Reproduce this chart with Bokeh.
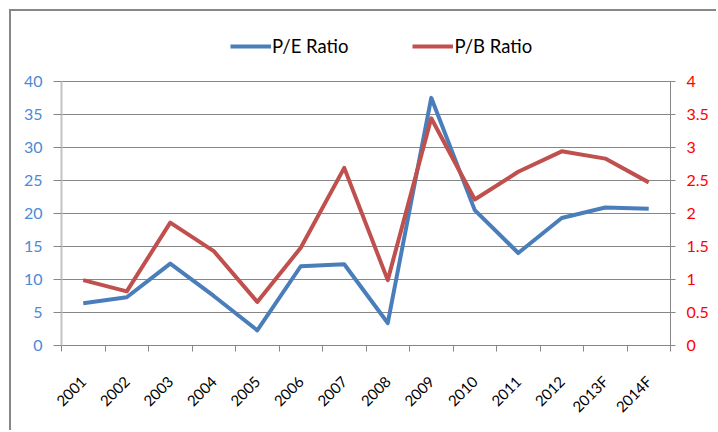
import math
from bokeh.plotting import figure
from bokeh.models import (Range1d, FactorRange, LinearAxis, FixedTicker,
                          NumeralTickFormatter, Legend, LegendItem, ColumnDataSource)
from bokeh.embed import file_html
from bokeh.resources import INLINE

years = ["2001", "2002", "2003", "2004", "2005", "2006", "2007", "2008",
         "2009", "2010", "2011", "2012", "2013F", "2014F"]
pe_ratio = [6.4, 7.3, 12.4, 7.5, 2.3, 12.0, 12.3, 3.4, 37.5, 20.5, 14.0, 19.3, 20.9, 20.7]
pb_ratio = [0.99, 0.82, 1.86, 1.43, 0.66, 1.48, 2.69, 0.99, 3.44, 2.21, 2.63, 2.94, 2.83, 2.47]
left_ticks = [0, 5, 10, 15, 20, 25, 30, 35, 40]
right_ticks = [0, 0.5, 1, 1.5, 2, 2.5, 3, 3.5, 4]

FONT = "Lato"
GRID = "#868686"
TOP = 48  # headroom above the 40 line holds the legend

src = ColumnDataSource(dict(year=years, pe=pe_ratio, pb=pb_ratio))

p = figure(width=707, height=421, x_range=FactorRange(factors=years),
           y_range=Range1d(0, TOP), output_backend="svg", toolbar_location=None,
           x_axis_location=None,
           min_border_left=50, min_border_right=48, min_border_top=17,
           min_border_bottom=87, outline_line_color=None)
p.styles = {"margin-left": "9px", "margin-top": "9px",
            "border-left": "2px solid #878787", "border-top": "2px solid #878787"}

p.extra_y_ranges = {"pb": Range1d(0, TOP / 10)}

p.xgrid.visible = False
p.ygrid.grid_line_color = GRID
p.ygrid.ticker = FixedTicker(ticks=left_ticks)

# left axis
ya = p.yaxis[0]
ya.ticker = FixedTicker(ticks=left_ticks)
ya.bounds = (0, 40)
ya.axis_line_color = "#c4c4c4"
ya.axis_line_width = 2
ya.major_tick_line_color = GRID
ya.major_tick_out = 8
ya.major_tick_in = 0
ya.minor_tick_line_color = None
ya.major_label_standoff = 11
ya.major_label_text_font = FONT
ya.major_label_text_font_size = "16px"
ya.major_label_text_color = "#4a8ad6"

# right axis
ra = LinearAxis(y_range_name="pb", ticker=FixedTicker(ticks=right_ticks),
                formatter=NumeralTickFormatter(format="0.[0]"), bounds=(0, 4))
ra.axis_line_color = GRID
ra.major_tick_line_color = GRID
ra.major_tick_out = 5
ra.major_tick_in = 0
ra.minor_tick_line_color = None
ra.major_label_standoff = 11
ra.major_label_text_font = FONT
ra.major_label_text_font_size = "16px"
ra.major_label_text_color = "#ff0000"
p.add_layout(ra, "right")

# bottom axis: labels at category centres, ticks at category boundaries
centres = [i + 0.5 for i in range(len(years))]
bounds = list(range(len(years) + 1))
xa = LinearAxis(ticker=FixedTicker(ticks=centres, minor_ticks=bounds),
                major_label_overrides={c: y for c, y in zip(centres, years)})
xa.axis_line_color = GRID
xa.major_tick_line_color = None
xa.major_tick_out = 0
xa.major_tick_in = 0
xa.minor_tick_line_color = GRID
xa.minor_tick_out = 6
xa.minor_tick_in = 0
xa.major_label_orientation = math.pi / 4
xa.major_label_text_font = FONT
xa.major_label_text_font_size = "15px"
xa.major_label_text_color = "#000000"
xa.major_label_standoff = 27
p.add_layout(xa, "below")

r1 = p.line(x="year", y="pe", source=src, line_color="#4a7ebb", line_width=4,
            line_join="round")
r2 = p.line(x="year", y="pb", source=src, y_range_name="pb", line_color="#c0504d",
            line_width=4, line_join="round")

legend = Legend(items=[LegendItem(label="P/E Ratio", renderers=[r1]),
                       LegendItem(label="P/B Ratio", renderers=[r2])],
                orientation="horizontal", location=(169, 288),
                border_line_color=None, background_fill_alpha=0,
                glyph_width=41, glyph_height=20, label_standoff=1, spacing=64,
                padding=0, margin=0, label_text_font=FONT,
                label_text_font_size="18.5px", label_text_color="#000000")
p.add_layout(legend, "center")

open("out.html", "w").write(file_html(p, INLINE))
